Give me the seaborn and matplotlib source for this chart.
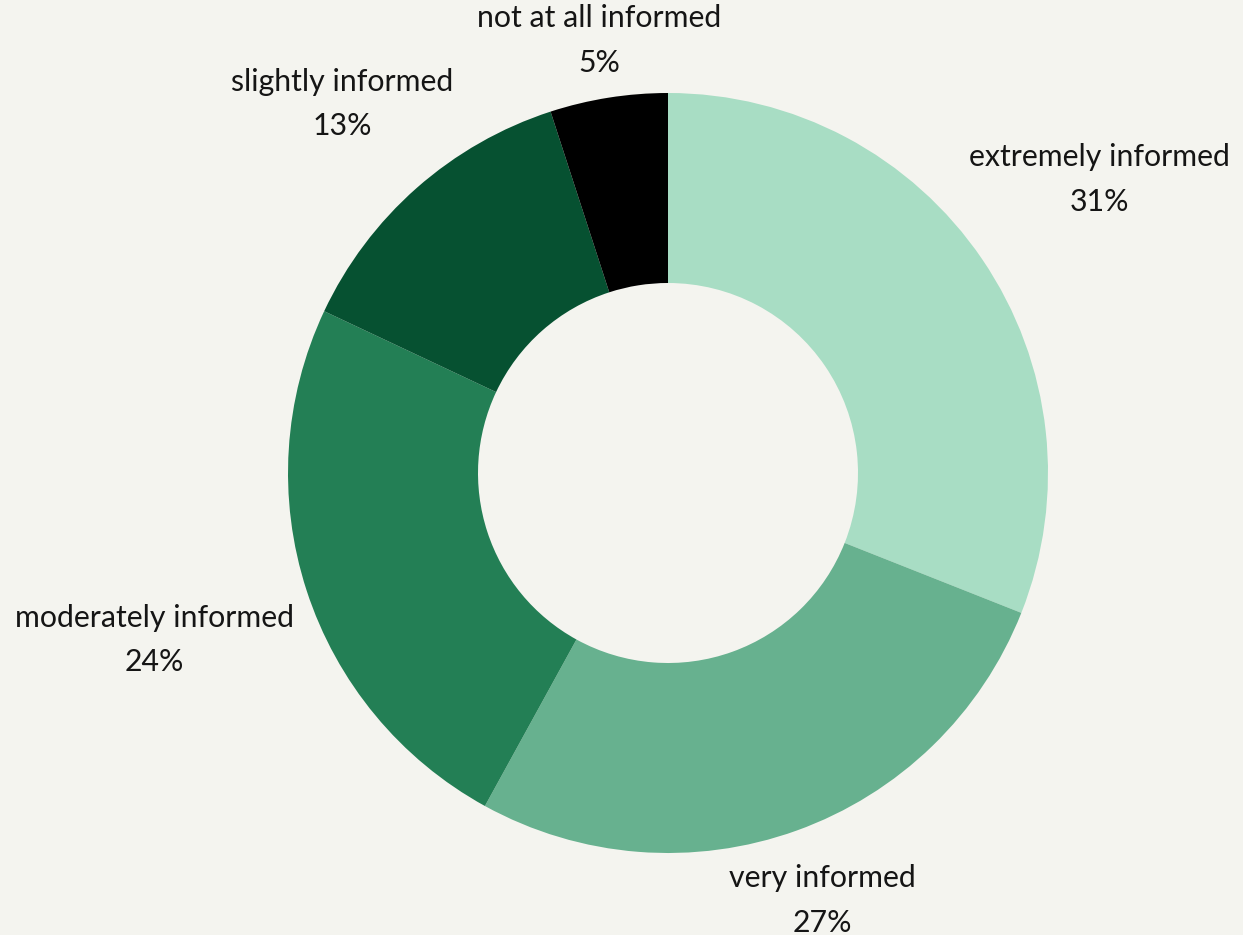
import numpy as np
import matplotlib
matplotlib.use("Agg")
import matplotlib.pyplot as plt
import seaborn as sns

# Survey responses: how informed respondents feel
categories = ["extremely informed", "very informed", "moderately informed",
              "slightly informed", "not at all informed"]
shares = [31, 27, 24, 13, 5]
colors = ["#a8ddc4", "#67b18f", "#237f55", "#065131", "#000000"]

BG = "#f4f4ef"
sns.set_theme(style="white")
plt.rcParams["font.family"] = ["Lato", "DejaVu Sans"]

W, H = 1243, 935
fig = plt.figure(figsize=(W / 100, H / 100), dpi=100, facecolor=BG)
ax = fig.add_axes([0, 0, 1, 1])
ax.set_facecolor(BG)

cx, cy, R = 668, H - 473, 380
wedges, _ = ax.pie(shares, colors=colors, startangle=90, counterclock=False,
                   radius=R, center=(cx, cy), frame=True,
                   wedgeprops=dict(width=R * 0.5, linewidth=0))
ax.set_xlim(0, W)
ax.set_ylim(0, H)
ax.set_axis_off()

# Outside labels: push each label box out along its wedge's mid-angle
# until its nearest point clears the ring by a small gap.
fig.canvas.draw()
renderer = fig.canvas.get_renderer()
gap = R * 1.042
for w, cat, val in zip(wedges, categories, shares):
    ang = np.deg2rad((w.theta1 + w.theta2) / 2)
    ux, uy = np.cos(ang), np.sin(ang)
    t = ax.text(cx, cy, f"{cat}\n{val}%", ha="center", va="center",
                fontsize=21.8, color="#151515", linespacing=1.72)
    bb = t.get_window_extent(renderer)
    hw, hh = bb.width / 2, bb.height / 2
    lo, hi = 0.0, 2 * R
    for _ in range(60):
        mid = (lo + hi) / 2
        dx = max(abs(mid * ux) - hw, 0)
        dy = max(abs(mid * uy) - hh, 0)
        if np.hypot(dx, dy) < gap:
            lo = mid
        else:
            hi = mid
    t.set_position((cx + hi * ux, cy + hi * uy))

fig.savefig("out.png", dpi=100, facecolor=BG)
